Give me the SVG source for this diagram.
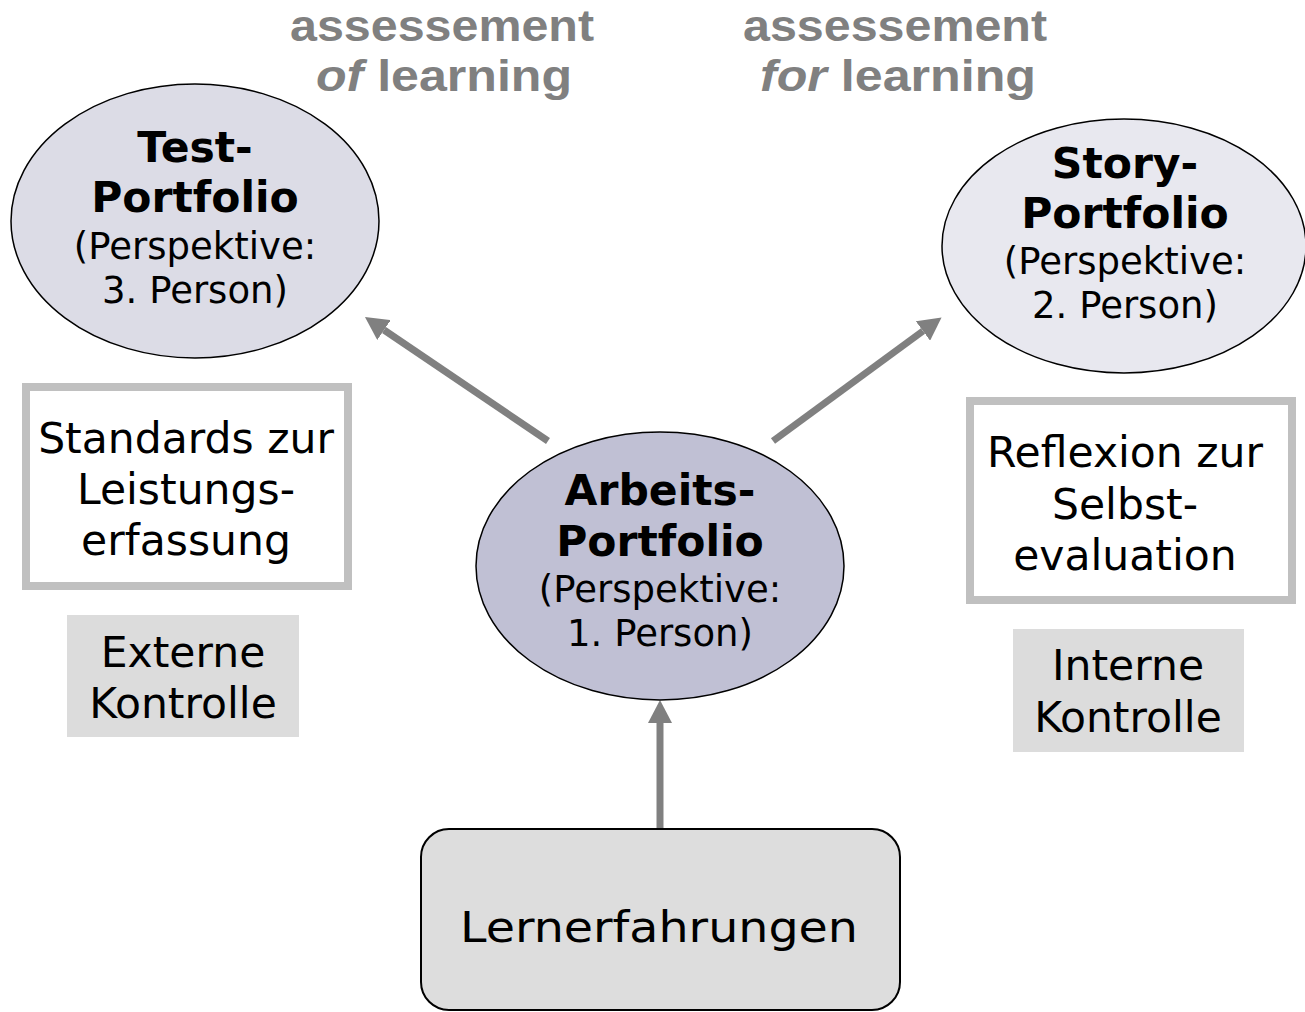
<svg xmlns="http://www.w3.org/2000/svg" width="1305" height="1012" viewBox="0 0 1305 1012">
<style>
.head{font-family:"Liberation Sans",Arial,sans-serif;font-weight:bold;font-size:45px;fill:#808080;text-anchor:middle}
.b{font-family:"DejaVu Sans",Verdana,sans-serif;font-weight:bold;font-size:42.5px;fill:#000;text-anchor:middle}
.r{font-family:"DejaVu Sans",Verdana,sans-serif;font-size:37px;fill:#000;text-anchor:middle}
.t{font-family:"DejaVu Sans",Verdana,sans-serif;font-size:42.5px;fill:#000;text-anchor:middle}
.ell{stroke:#000;stroke-width:1.5}
.frame{fill:#fff;stroke:#c0c0c0;stroke-width:8}
.ctl{fill:#dcdcdc}
.conn{stroke:#808080;stroke-width:7;fill:none;marker-end:url(#ah)}
</style>
<defs>
<marker id="ah" markerUnits="userSpaceOnUse" markerWidth="24" markerHeight="24" refX="0" refY="12" orient="auto">
<path d="M0,0 L23,12 L0,24 z" fill="#808080"/>
</marker>
</defs>
<rect width="1305" height="1012" fill="#fff"/>

<g id="heading-of">
<text class="head" x="442" y="41" textLength="304" lengthAdjust="spacingAndGlyphs">assessement</text>
<text class="head" x="444" y="91" textLength="256" lengthAdjust="spacingAndGlyphs"><tspan font-style="italic">of</tspan> learning</text>
</g>
<g id="heading-for">
<text class="head" x="895" y="41" textLength="304" lengthAdjust="spacingAndGlyphs">assessement</text>
<text class="head" x="898" y="91" textLength="276" lengthAdjust="spacingAndGlyphs"><tspan font-style="italic">for</tspan> learning</text>
</g>

<g id="connectors">
<line class="conn" x1="548" y1="441" x2="384" y2="330"/>
<line class="conn" x1="773" y1="441" x2="923" y2="331"/>
<line class="conn" x1="660" y1="829" x2="660" y2="723"/>
</g>

<g id="test-portfolio">
<ellipse class="ell" cx="195" cy="221" rx="184" ry="137" fill="#dcdce6"/>
<text class="b" x="195" y="162">Test-</text>
<text class="b" x="195" y="212">Portfolio</text>
<text class="r" x="195" y="259">(Perspektive:</text>
<text class="r" x="195" y="303">3. Person)</text>
</g>

<g id="story-portfolio">
<ellipse class="ell" cx="1124" cy="246" rx="182" ry="127" fill="#e8e8ef"/>
<text class="b" x="1125" y="178">Story-</text>
<text class="b" x="1125" y="228">Portfolio</text>
<text class="r" x="1125" y="274">(Perspektive:</text>
<text class="r" x="1125" y="318">2. Person)</text>
</g>

<g id="arbeits-portfolio">
<ellipse class="ell" cx="660" cy="566" rx="184" ry="134" fill="#c0c0d4"/>
<text class="b" x="660" y="505">Arbeits-</text>
<text class="b" x="660" y="556">Portfolio</text>
<text class="r" x="660" y="602">(Perspektive:</text>
<text class="r" x="660" y="646">1. Person)</text>
</g>

<g id="standards">
<rect class="frame" x="26" y="387" width="322" height="199"/>
<text class="t" x="186" y="453">Standards zur</text>
<text class="t" x="186" y="504">Leistungs-</text>
<text class="t" x="186" y="555">erfassung</text>
</g>

<g id="externe-kontrolle">
<rect class="ctl" x="67" y="615" width="232" height="122"/>
<text class="t" x="183" y="667">Externe</text>
<text class="t" x="183" y="718">Kontrolle</text>
</g>

<g id="reflexion">
<rect class="frame" x="970" y="401" width="322" height="199"/>
<text class="t" x="1125" y="467">Reflexion zur</text>
<text class="t" x="1125" y="519">Selbst-</text>
<text class="t" x="1125" y="570">evaluation</text>
</g>

<g id="interne-kontrolle">
<rect class="ctl" x="1013" y="629" width="231" height="123"/>
<text class="t" x="1128" y="680">Interne</text>
<text class="t" x="1128" y="732">Kontrolle</text>
</g>

<g id="lernerfahrungen">
<rect x="421" y="829" width="479" height="181" rx="28" ry="28" fill="#dddddd" stroke="#000" stroke-width="2"/>
<text class="t" x="659" y="942" font-size="50px" textLength="398" lengthAdjust="spacingAndGlyphs">Lernerfahrungen</text>
</g>
</svg>
